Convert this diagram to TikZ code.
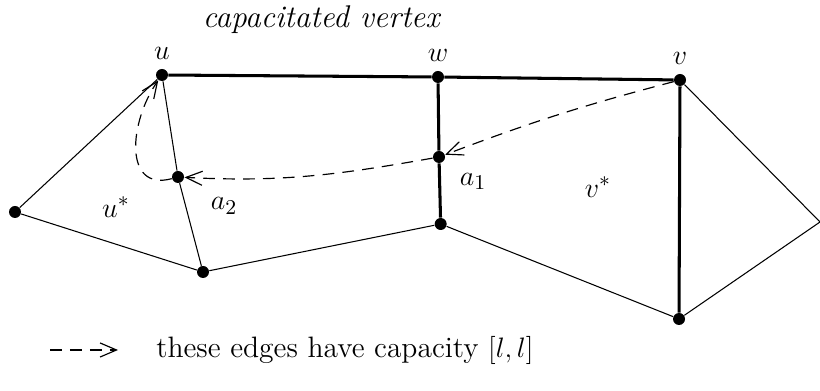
\documentclass[tikz,border=0pt]{standalone}
\usepackage{amsmath, amssymb}
\usepackage{tikz}
\usetikzlibrary{arrows.meta, positioning}

\begin{document}
\begin{tikzpicture}[
    vtx/.style={circle, fill=black, inner sep=0pt, minimum size=0.18cm},
    heavy/.style={line width=1.3pt},
    light/.style={line width=0.45pt},
    flow/.style={dashed, dash pattern=on 5pt off 3.5pt, line width=0.5pt,
                 -{Straight Barb[length=7pt, width=6pt]}},
    lbl/.style={font=\fontsize{12.6}{15}\selectfont}
]
\useasboundingbox (0,0) rectangle (12.3,5.865);

%% ── Vertices ───────────────────────────────────────────────────────────
\node[vtx] (u)  at ( 2.43, 4.74)  {};
\node[vtx] (w)  at ( 6.57, 4.71)  {};
\node[vtx] (v)  at (10.20, 4.665) {};
\node[vtx] (a1) at ( 6.585,3.51)  {};
\node[vtx] (a2) at ( 2.67, 3.21)  {};
\node[vtx] (l)  at ( 0.225,2.685) {};
\node[vtx] (bl) at ( 3.045,1.785) {};
\node[vtx] (wb) at ( 6.61, 2.505) {};
\node[vtx] (vb) at (10.185,1.08)  {};
\coordinate (r) at (12.3, 2.535);

%% ── Capacitated vertex (thick edges) ──────────────────────────────────
\draw[heavy] (u) -- (w) -- (v);
\draw[heavy] (w) -- (a1) -- (wb);
\draw[heavy] (v) -- (vb);

%% ── Thin edges ────────────────────────────────────────────────────────
\draw[light] (l) -- (u) -- (a2) -- (bl) -- (l);
\draw[light] (bl) -- (wb) -- (vb) -- (r) -- (v);

%% ── Dashed edges with capacity [l,l] ──────────────────────────────────
\draw[flow] (v) to[bend right=3] (a1);
\draw[flow] (a1) to[out=190, in=-3] (a2);
\draw[flow] (a2) to[out=195, in=235, looseness=1.3] (u);

%% ── Labels ────────────────────────────────────────────────────────────
\node[font=\fontsize{13.4}{16}\selectfont] (tit) at (4.83, 5.565)
      {\textit{capacitated vertex}};
\node[lbl, above=0.5pt of u] (lu) {$u$};
\node[lbl, above=0.5pt of w] (lw) {$w$};
\node[lbl, above=0.5pt of v] (lv) {$v$};
\node[lbl, below right=0.05cm and 0.12cm of a1] (la1) {$a_1$};
\node[lbl, below right=0.12cm and 0.3cm of a2] (la2) {$a_2$};
\node[lbl] (us) at (1.74, 2.76) {$u^*$};
\node[lbl] (vs) at (8.97, 3.06) {$v^*$};

%% ── Legend ────────────────────────────────────────────────────────────
\coordinate (k1) at (0.75, 0.615);
\coordinate (k2) at (1.77, 0.615);
\draw[flow] (k1) -- (k2);
\node[lbl, anchor=west] (key) at (2.22, 0.615) {these edges have capacity $[l,l]$};
\end{tikzpicture}
\end{document}
